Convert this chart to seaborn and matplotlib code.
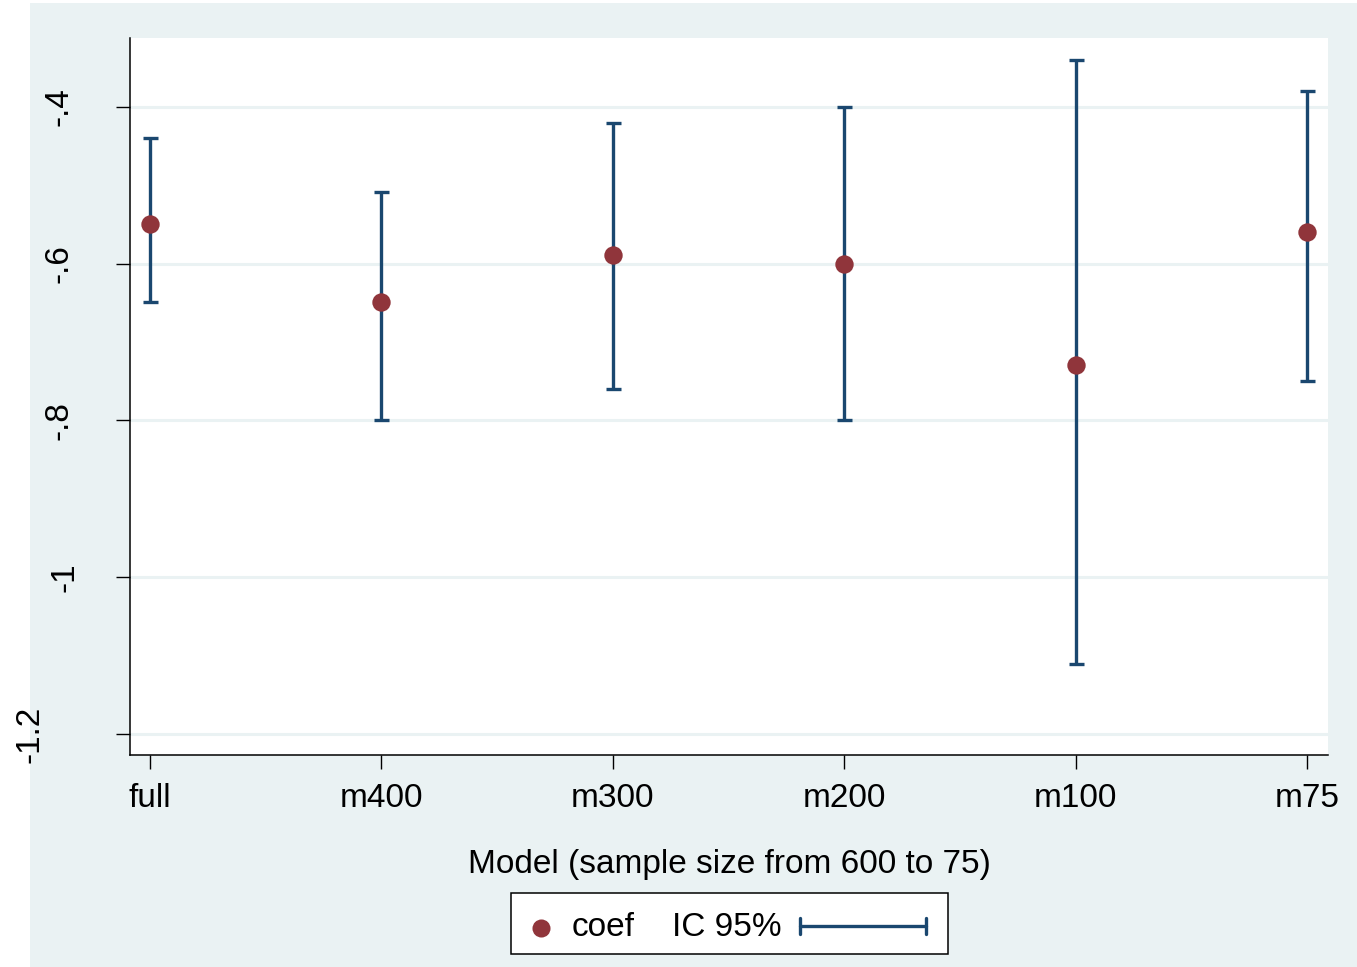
import matplotlib
matplotlib.use("Agg")
import matplotlib.pyplot as plt
import matplotlib.transforms as mtransforms
from matplotlib.patches import Rectangle
from matplotlib.lines import Line2D
import seaborn as sns
import pandas as pd
import numpy as np

models = ["full", "m400", "m300", "m200", "m100", "m75"]
coef = [-0.549, -0.649, -0.589, -0.600, -0.729, -0.559]
ci_low = [-0.649, -0.800, -0.760, -0.800, -1.111, -0.750]
ci_high = [-0.440, -0.508, -0.420, -0.400, -0.340, -0.380]
yticks = [-1.2, -1.0, -0.8, -0.6, -0.4]
ytick_labels = ["-1.2", "-1", "-.8", "-.6", "-.4"]
x_title = "Model (sample size from 600 to 75)"
legend_labels = ["coef", "IC 95%"]

BG = "#eaf2f3"
NAVY = "#1a476f"
MAROON = "#90353b"

sns.set_style("white")
plt.rcParams["font.family"] = ["Liberation Sans", "DejaVu Sans"]
plt.rcParams["text.color"] = "black"
plt.rcParams["axes.labelcolor"] = "black"
plt.rcParams["xtick.color"] = "black"
plt.rcParams["ytick.color"] = "black"

df = pd.DataFrame({"model": models, "coef": coef, "lo": ci_low, "hi": ci_high})
df["pos"] = np.arange(len(models))

fig = plt.figure(figsize=(13.57, 9.67), dpi=100, facecolor="white")
# Stata-like outer background region
fig.patches.append(Rectangle((30 / 1357, 0), 1 - 30 / 1357, (967 - 3) / 967,
                             transform=fig.transFigure, facecolor=BG,
                             edgecolor="none", zorder=-10))

ax = fig.add_axes([130 / 1357, (967 - 755) / 967, (1328 - 130) / 1357, (755 - 38) / 967])
ax.set_facecolor("white")

# grid lines
for yt in yticks:
    ax.axhline(yt, color=BG, lw=2.2, zorder=0)

yerr = np.vstack([df["coef"] - df["lo"], df["hi"] - df["coef"]])
ax.errorbar(df["pos"], df["coef"], yerr=yerr, fmt="none", ecolor=NAVY,
            elinewidth=2.4, capsize=5.4, capthick=2.4, zorder=2)
sns.scatterplot(data=df, x="pos", y="coef", ax=ax, color=MAROON, s=175,
                edgecolor=MAROON, linewidth=0, zorder=3, legend=False)

ax.set_xlim(-0.0864, 5.091)
ax.set_ylim(-1.2268, -0.312)
ax.set_xticks(df["pos"])
ax.set_xticklabels(models)
ax.set_yticks(yticks)
ax.set_yticklabels(ytick_labels, rotation=90, va="center")

for side in ["top", "right"]:
    ax.spines[side].set_visible(False)
for side in ["left", "bottom"]:
    ax.spines[side].set_color("black")
    ax.spines[side].set_linewidth(1.1)

ax.tick_params(axis="x", direction="out", length=10, width=1.0, color="black",
               pad=10, labelsize=24, bottom=True, labelcolor="black")
ax.tick_params(axis="y", direction="out", length=10, width=1.0, color="black",
               pad=30, labelsize=24, left=True, labelcolor="black")
ax.set_xlabel(x_title, fontsize=24, labelpad=25.5, color="black")
ax.set_ylabel("")

# per-label horizontal offsets (Stata rotated label placement)
offsets = {"-1": 6, "-1.2": -29}
for lab in ax.get_yticklabels():
    dx = offsets.get(lab.get_text(), 0)
    if dx:
        lab.set_transform(lab.get_transform() +
                          mtransforms.ScaledTranslation(dx / 100, 0, fig.dpi_scale_trans))

# legend (drawn in figure coordinates)
W, H = 1357, 967
def fx(x):
    return x / W
def fy(y):
    return (H - y) / H
fig.patches.append(Rectangle((fx(511), fy(954)), fx(948) - fx(511), fy(893) - fy(954),
                             transform=fig.transFigure, facecolor="white",
                             edgecolor="black", linewidth=1.1, zorder=5))
fig.lines.append(Line2D([fx(541)], [fy(928)], marker="o", markersize=13,
                        color=MAROON, markeredgewidth=0, transform=fig.transFigure, zorder=6))
fig.text(fx(572), fy(927), legend_labels[0], fontsize=24, va="center", ha="left",
         color="black", zorder=6)
fig.text(fx(672), fy(927), legend_labels[1], fontsize=24, va="center", ha="left",
         color="black", zorder=6)
fig.lines.append(Line2D([fx(800), fx(926)], [fy(926), fy(926)], color=NAVY, lw=2.4,
                        transform=fig.transFigure, zorder=6))
for xc in (800, 926):
    fig.lines.append(Line2D([fx(xc), fx(xc)], [fy(918), fy(934)], color=NAVY, lw=2.4,
                            transform=fig.transFigure, zorder=6))

fig.savefig("out.png", dpi=100, facecolor="white")
